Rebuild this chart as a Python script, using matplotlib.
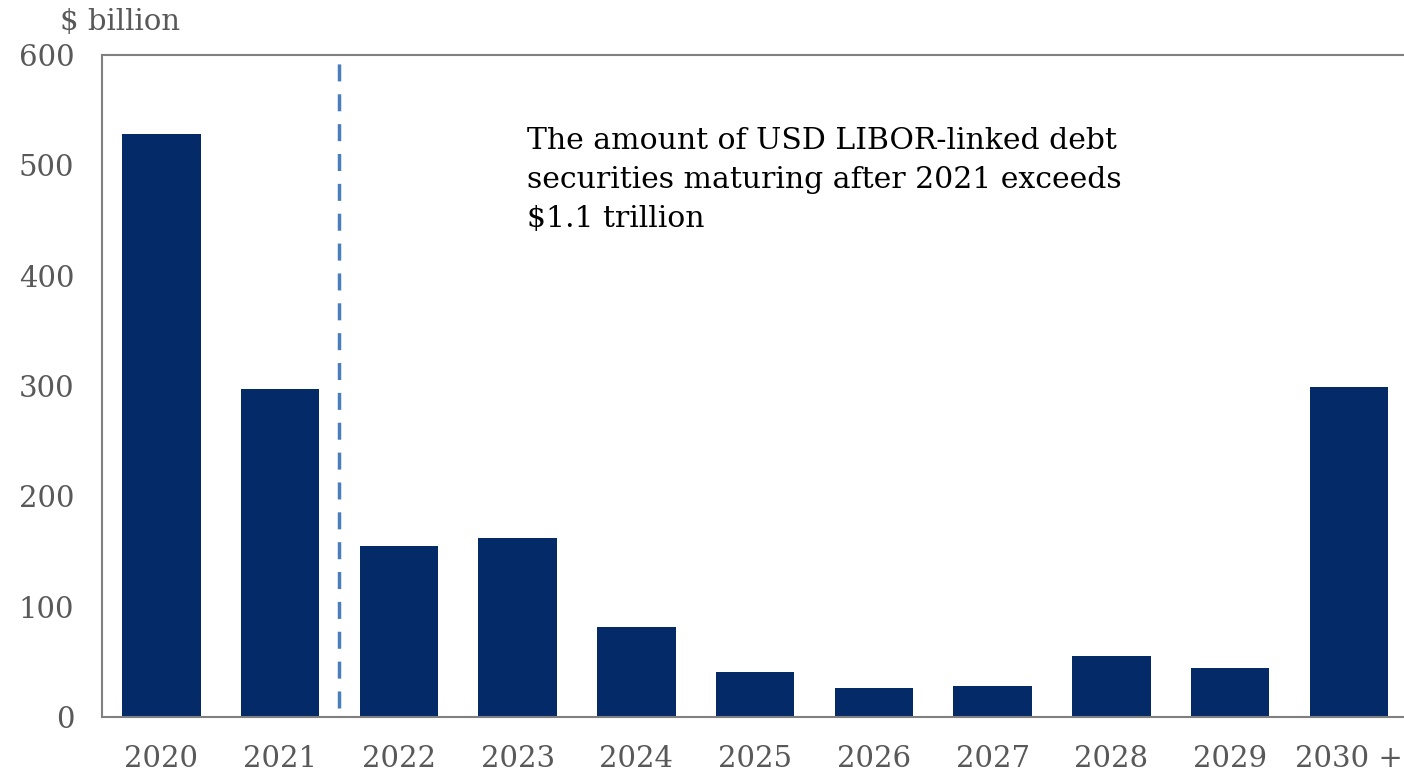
import matplotlib

matplotlib.use("Agg")

import matplotlib.pyplot as plt

# values ($ billion)
years = ["2020", "2021", "2022", "2023", "2024", "2025", "2026", "2027", "2028", "2029", "2030 +"]
amounts = [528, 297, 155, 162, 82, 41, 26, 28, 55, 44, 299]
yticks = [0, 100, 200, 300, 400, 500, 600]

NAVY = "#052a68"
GREY = "#808080"
LABEL = "#595959"

plt.rcParams["font.family"] = ["DejaVu Serif"]

fig = plt.figure(figsize=(14.04, 7.74), dpi=100)
ax = fig.add_axes([102 / 1404, 1 - 717 / 774, (1404 - 102) / 1404 + 0.003, 662 / 774])

x = list(range(len(years)))
ax.bar(x, amounts, width=0.66, color=NAVY, zorder=2)
ax.axvline(1.5, ymin=0.013, ymax=0.988, color="#4a7ebb", lw=2.5, ls=(0, (4.9, 3.7)), zorder=3)

ax.set_xlim(-0.5, 10.5)
ax.set_ylim(0, 600)
ax.set_xticks(x)
ax.set_xticklabels(years)
ax.set_yticks(yticks)
ax.tick_params(axis="both", length=0, labelsize=21, labelcolor=LABEL)
ax.tick_params(axis="y", pad=20)
ax.tick_params(axis="x", pad=20)

for side in ("left", "bottom", "top"):
    ax.spines[side].set_color(GREY)
    ax.spines[side].set_linewidth(1.5)
ax.spines["right"].set_visible(False)

ax.text(3.08, 535, "The amount of USD LIBOR-linked debt\nsecurities maturing after 2021 exceeds\n$1.1 trillion",
        fontsize=21.5, color="black", va="top", ha="left", linespacing=1.5)

fig.text(60 / 1404, 1 - 22 / 774, "$ billion", fontsize=21, color=LABEL, va="center", ha="left")

fig.savefig("out.png", dpi=100)
